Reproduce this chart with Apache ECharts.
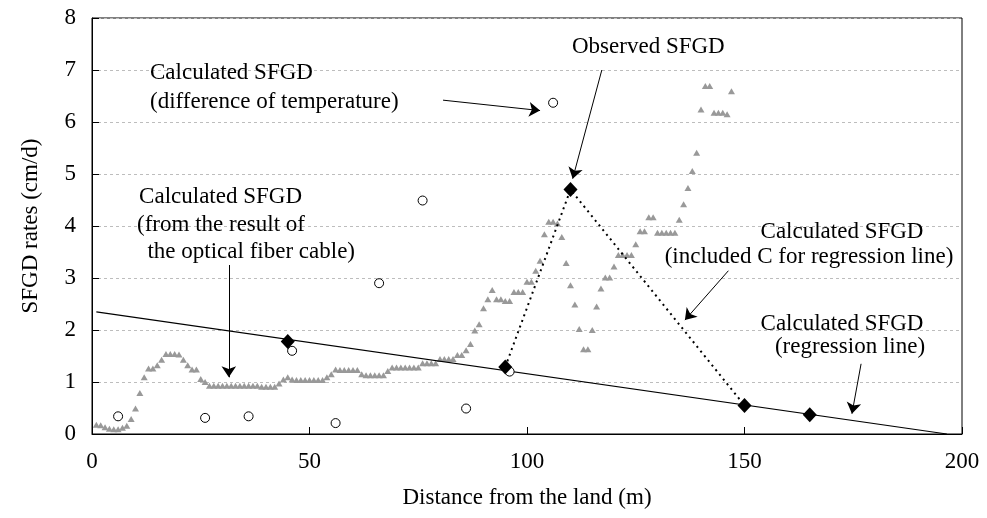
<!DOCTYPE html>
<html>
<head>
<meta charset="utf-8">
<script src="https://cdn.jsdelivr.net/npm/echarts@6/dist/echarts.min.js"></script>
<style>
  html, body { margin: 0; padding: 0; background: #fff; }
  #main { width: 987px; height: 518px; }
</style>
</head>
<body>
<div id="main"></div>
<script>
// optical fiber cable result, one value per metre from x = 1 m
var fiberY = [
  0.18, 0.17, 0.13, 0.10, 0.09, 0.09, 0.12, 0.16, 0.29, 0.49,
  0.79, 1.09, 1.26, 1.26, 1.32, 1.43, 1.54, 1.54, 1.54, 1.53,
  1.43, 1.32, 1.24, 1.24, 1.06, 1.00, 0.93, 0.93, 0.93, 0.93,
  0.93, 0.93, 0.93, 0.93, 0.93, 0.93, 0.93, 0.93, 0.91, 0.91,
  0.91, 0.91, 0.97, 1.05, 1.09, 1.05, 1.04, 1.04, 1.04, 1.04,
  1.04, 1.04, 1.04, 1.09, 1.15, 1.24, 1.23, 1.23, 1.23, 1.23,
  1.23, 1.15, 1.13, 1.13, 1.13, 1.13, 1.13, 1.21, 1.28, 1.28,
  1.28, 1.28, 1.28, 1.28, 1.28, 1.36, 1.36, 1.36, 1.36, 1.44,
  1.44, 1.44, 1.44, 1.52, 1.52, 1.61, 1.73, 1.99, 2.11, 2.42,
  2.59, 2.77, 2.59, 2.59, 2.56, 2.56, 2.73, 2.73, 2.73, 2.93,
  2.93, 3.14, 3.33, 3.84, 4.08, 4.08, 4.05, 3.79, 3.29, 2.86,
  2.49, 2.02, 1.63, 1.63, 2.00, 2.45, 2.80, 3.01, 3.01, 3.22,
  3.44, 3.44, 3.44, 3.44, 3.65, 3.90, 3.90, 4.17, 4.17, 3.87,
  3.87, 3.87, 3.87, 3.87, 4.12, 4.42, 4.73, 5.06, 5.41, 6.24,
  6.69, 6.69, 6.18, 6.18, 6.18, 6.15, 6.59
];
var fiberStart = 1;

// difference of temperature
var tempX = [6, 26, 36, 46, 56, 66, 76, 86, 96, 106];
var tempY = [0.34, 0.31, 0.34, 1.60, 0.21, 2.90, 4.49, 0.49, 1.20, 6.37];

// observed
var obsX = [45, 95, 110, 150, 165];
var obsY = [1.78, 1.29, 4.70, 0.55, 0.37];

// regression line ends
var regX = [1, 196.5];
var regY = [2.35, 0];

var xTicks = [0, 200, 50];
var yTicks = [0, 8, 1];

var FONT = '"Liberation Serif", "Times New Roman", serif';

function pairs(xs, ys) {
    var out = [];
    for (var i = 0; i < xs.length; i++) {
        out.push([xs[i], ys[i]]);
    }
    return out;
}

var fiberData = [];
for (var i = 0; i < fiberY.length; i++) {
    fiberData.push([fiberStart + i, fiberY[i]]);
}

// dotted line joins observed points 95 -> 110 -> 150
var dotted = pairs(obsX.slice(1, 4), obsY.slice(1, 4));

// annotation arrows, in data units
var arrows = [
    [[80.7, 6.42], [103.0, 6.22]],
    [[117.2, 7.00], [110.5, 4.91]],
    [[31.45, 3.25], [31.45, 1.09]],
    [[146.3, 3.14], [136.3, 2.19]],
    [[176.8, 1.35], [174.7, 0.39]]
];

function txt(s, x, y, align) {
    return {
        type: 'text',
        x: x,
        y: y,
        z: 50,
        style: {
            text: s,
            font: '23px ' + FONT,
            fill: '#000',
            align: align,
            verticalAlign: 'middle'
        }
    };
}

var myChart = echarts.init(document.getElementById('main'));

var option = {
    animation: false,
    backgroundColor: '#fff',
    grid: {
        left: 92,
        right: 25,
        top: 18,
        bottom: 84,
        show: true,
        borderColor: '#000',
        borderWidth: 1,
        backgroundColor: '#fff'
    },
    xAxis: {
        type: 'value',
        min: xTicks[0],
        max: xTicks[1],
        interval: xTicks[2],
        name: 'Distance from the land (m)',
        nameLocation: 'middle',
        nameGap: 52,
        nameTextStyle: { fontFamily: FONT, fontSize: 23, color: '#000' },
        axisLine: { show: true, lineStyle: { color: '#000', width: 1 } },
        axisTick: { show: true, inside: true, length: 7, lineStyle: { color: '#000' } },
        axisLabel: { fontFamily: FONT, fontSize: 23, color: '#000', margin: 16 },
        splitLine: { show: false }
    },
    yAxis: {
        type: 'value',
        min: yTicks[0],
        max: yTicks[1],
        interval: yTicks[2],
        name: 'SFGD rates (cm/d)',
        nameLocation: 'middle',
        nameGap: 50,
        nameTextStyle: { fontFamily: FONT, fontSize: 23, color: '#000' },
        axisLine: { show: true, lineStyle: { color: '#000', width: 1 } },
        axisTick: { show: true, inside: true, length: 7, lineStyle: { color: '#000' } },
        axisLabel: { fontFamily: FONT, fontSize: 23, color: '#000', margin: 16 },
        splitLine: { show: true, lineStyle: { color: '#bdbdbd', type: [3, 3], width: 1 } }
    },
    series: [
        {
            name: 'fiber',
            type: 'scatter',
            data: fiberData,
            symbol: 'triangle',
            symbolSize: [7, 6],
            itemStyle: { color: '#999', opacity: 1 },
            z: 2
        },
        {
            name: 'regression',
            type: 'line',
            data: pairs(regX, regY),
            showSymbol: false,
            symbol: 'none',
            lineStyle: { color: '#000', width: 1.2 },
            z: 3
        },
        {
            name: 'included C',
            type: 'line',
            data: dotted,
            showSymbol: false,
            symbol: 'none',
            lineStyle: { color: '#000', width: 2, type: [2, 4] },
            z: 3
        },
        {
            name: 'temperature',
            type: 'scatter',
            data: pairs(tempX, tempY),
            symbol: 'circle',
            symbolSize: 9,
            itemStyle: { color: '#fff', borderColor: '#000', borderWidth: 1, opacity: 1 },
            z: 4
        },
        {
            name: 'observed',
            type: 'scatter',
            data: pairs(obsX, obsY),
            symbol: 'diamond',
            symbolSize: [14, 15],
            itemStyle: { color: '#000', opacity: 1 },
            z: 5
        },
        {
            name: 'arrows',
            type: 'lines',
            coordinateSystem: 'cartesian2d',
            symbol: ['none', 'arrow'],
            symbolSize: 11,
            lineStyle: { color: '#000', width: 1, opacity: 1, curveness: 0 },
            data: arrows.map(function (a) { return { coords: a }; }),
            z: 6
        }
    ],
    graphic: [
        txt('Calculated SFGD', 150, 73, 'left'),
        txt('(difference of temperature)', 150, 102, 'left'),
        txt('Observed SFGD', 572, 47, 'left'),
        txt('Calculated SFGD', 302, 197, 'right'),
        txt('(from the result of', 305, 225, 'right'),
        txt('the optical fiber cable)', 355, 252, 'right'),
        txt('Calculated SFGD', 842, 232, 'center'),
        txt('(included C for regression line)', 809, 257, 'center'),
        txt('Calculated SFGD', 842, 324, 'center'),
        txt('(regression line)', 850, 347, 'center')
    ]
};

myChart.setOption(option);
</script>
</body>
</html>
